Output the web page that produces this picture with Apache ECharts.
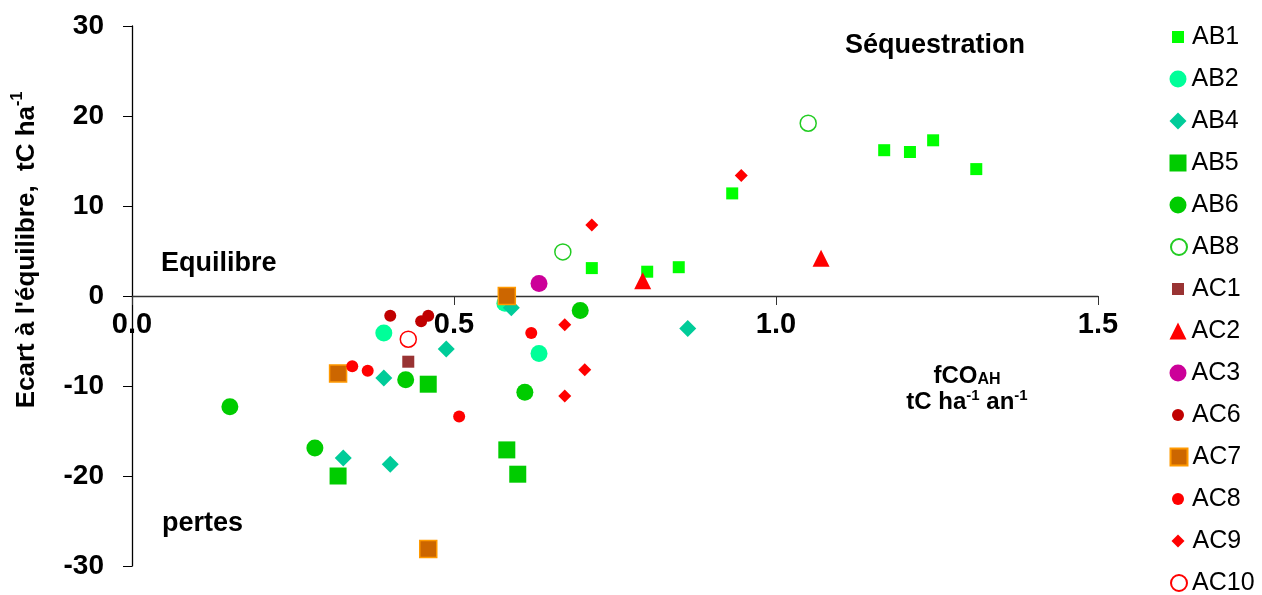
<!DOCTYPE html>
<html><head><meta charset="utf-8">
<script src="https://cdn.jsdelivr.net/npm/echarts@6/dist/echarts.min.js"></script>
<style>html,body{margin:0;padding:0;background:#fff}#c{width:1262px;height:595px}</style>
</head><body><div id="c"></div>
<script>
const FONT = "'Liberation Sans', Arial, Helvetica, sans-serif";

// ---- data (x = fCO_AH, y = écart à l'équilibre) ----
const seriesNames = ['AB1','AB2','AB4','AB5','AB6','AB8','AC1','AC2','AC3','AC6','AC7','AC8','AC9','AC10'];
const xTickLabels = ['0.0','0.5','1.0','1.5'];
const yTickLabels = ['-30','-20','-10','0','10','20','30'];

const AB1 = [[0.714,3.1],[0.800,2.7],[0.849,3.2],[0.932,11.4],[1.168,16.2],[1.208,16.0],[1.244,17.3],[1.311,14.1]];
const AB2 = [[0.391,-4.1],[0.579,-0.8],[0.632,-6.4]];
const AB4 = [[0.488,-5.9],[0.391,-9.1],[0.328,-18.0],[0.401,-18.7],[0.589,-1.3],[0.863,-3.6]];
const AB5 = [[0.460,-9.8],[0.320,-20.0],[0.582,-17.1],[0.599,-19.8]];
const AB6 = [[0.152,-12.3],[0.425,-9.3],[0.284,-16.9],[0.610,-10.7],[0.696,-1.6]];
const AB8 = [[0.669,4.9],[1.050,19.2]];
const AC1 = [[0.429,-7.3]];
const AC2 = [[0.793,1.7],[1.070,4.2]];
const AC3 = [[0.632,1.4]];
const AC6 = [[0.401,-2.2],[0.449,-2.8],[0.460,-2.2]];
const AC7 = [[0.320,-8.6],[0.582,0.0],[0.460,-28.1]];
const AC8 = [[0.342,-7.8],[0.366,-8.3],[0.508,-13.4],[0.620,-4.1]];
const AC9 = [[0.672,-3.2],[0.703,-8.2],[0.672,-11.1],[0.946,13.4],[0.714,7.9]];
const AC10 = [[0.429,-4.8]];
const seriesData = [AB1,AB2,AB4,AB5,AB6,AB8,AC1,AC2,AC3,AC6,AC7,AC8,AC9,AC10];

// ---- styles ----
const styles = {
  AB1: {symbol:'rect', size:12, color:'#00FF00'},
  AB2: {symbol:'circle', size:17, color:'#00FF99'},
  AB4: {symbol:'diamond', size:17, color:'#00CC99'},
  AB5: {symbol:'rect', size:17, color:'#00CC00'},
  AB6: {symbol:'circle', size:17, color:'#00CC00'},
  AB8: {symbol:'circle', size:16, color:'#FFFFFF', border:'#22CC22', bw:1.5},
  AC1: {symbol:'rect', size:12, color:'#993333'},
  AC2: {symbol:'triangle', size:17, color:'#FF0000'},
  AC3: {symbol:'circle', size:17, color:'#CC0099'},
  AC6: {symbol:'circle', size:12, color:'#C00000'},
  AC7: {symbol:'rect', size:17, color:'#CC6600', border:'#FF9900', bw:1.5},
  AC8: {symbol:'circle', size:12, color:'#FF0000'},
  AC9: {symbol:'diamond', size:13, color:'#FF0000'},
  AC10:{symbol:'circle', size:16, color:'#FFFFFF', border:'#FF0000', bw:1.5}
};

const GRID = {left:132, right:164, top:26, bottom:29};
const CH = 595;
const yMin = -30, yMax = 30;
const plotH = CH - GRID.top - GRID.bottom;
const zeroY = GRID.top + plotH * (yMax - 0) / (yMax - yMin);
const gridBottomY = CH - GRID.bottom;

const series = seriesNames.map((n,i)=>{
  const s = styles[n];
  return {
    name:n, type:'scatter', data:seriesData[i], symbol:s.symbol, symbolSize:s.size,
    itemStyle:{color:s.color, borderColor:s.border||s.color, borderWidth:s.bw||0, opacity:1},
    emphasis:{disabled:true}, z: 2 + i*0.01
  };
});

const legend = seriesNames.map((n,i)=>{
  const s = styles[n];
  const w = s.size;
  return {
    data:[n], orient:'vertical', padding:0, selectedMode:false,
    left: 1178 - w/2, top: 37 + i*42 - 13,
    itemWidth:w, itemHeight:w,
    textStyle:{fontFamily:FONT, fontSize:25, color:'#000', lineHeight:26, padding:[0,0,0, w<15?3:0]}
  };
});

const chart = echarts.init(document.getElementById('c'), null, {renderer:'canvas'});
chart.setOption({
  animation:false,
  backgroundColor:'#fff',
  grid:Object.assign({containLabel:false, outerBoundsMode:'none'}, GRID),
  xAxis:{
    type:'value', min:0, max:1.5, interval:0.5,
    axisLine:{onZero:true, lineStyle:{color:'#333', width:1.3}},
    axisTick:{show:true, inside:false, length:9, lineStyle:{color:'#333'}},
    splitLine:{show:false},
    axisLabel:{fontFamily:FONT, fontSize:29, fontWeight:'bold', color:'#000', margin: -(gridBottomY - zeroY) + 14,
      formatter:(v)=>{const k=Math.round(v/0.5); return xTickLabels[k]!==undefined?xTickLabels[k]:'';}}
  },
  yAxis:{
    type:'value', min:yMin, max:yMax, interval:10,
    axisLine:{lineStyle:{color:'#000', width:1.3}},
    axisTick:{show:true, length:9, lineStyle:{color:'#000'}},
    splitLine:{show:false},
    axisLabel:{fontFamily:FONT, fontSize:28, fontWeight:'bold', color:'#000', margin:28,
      formatter:(v)=>{const k=Math.round((v-yMin)/10); return yTickLabels[k]!==undefined?yTickLabels[k]:'';}}
  },
  legend: legend,
  series: series,
  graphic:[
    {type:'text', x:25, y:250, rotation:Math.PI/2, z:10,
      style:{text:"{m|Ecart à l'équilibre,  tC ha}{s|-1}", align:'center', verticalAlign:'middle',
        textAlign:'center', textVerticalAlign:'middle', fill:'#000',
        rich:{m:{fontFamily:FONT, fontSize:26, fontWeight:'bold', lineHeight:30, verticalAlign:'bottom'},
              s:{fontFamily:FONT, fontSize:16, fontWeight:'bold', verticalAlign:'top', lineHeight:18}}}},
    {type:'text', x:967, y:388, z:10,
      style:{text:"{m|fCO}{b|AH}\n{m|tC ha}{s|-1}{m| an}{s|-1}", align:'center', verticalAlign:'middle',
        textAlign:'center', textVerticalAlign:'middle', fill:'#000',
        rich:{m:{fontFamily:FONT, fontSize:24, fontWeight:'bold', lineHeight:26, verticalAlign:'bottom'},
              b:{fontFamily:FONT, fontSize:16, fontWeight:'bold', verticalAlign:'bottom', lineHeight:16},
              s:{fontFamily:FONT, fontSize:15, fontWeight:'bold', verticalAlign:'top', lineHeight:16}}}},
    {type:'text', x:845, y:46, z:10,
      style:{text:'Séquestration', fontFamily:FONT, fontSize:27, fontWeight:'bold', fill:'#000',
        align:'left', verticalAlign:'middle', textAlign:'left', textVerticalAlign:'middle'}},
    {type:'text', x:161, y:264, z:10,
      style:{text:'Equilibre', fontFamily:FONT, fontSize:27, fontWeight:'bold', fill:'#000',
        align:'left', verticalAlign:'middle', textAlign:'left', textVerticalAlign:'middle'}},
    {type:'text', x:162, y:524, z:10,
      style:{text:'pertes', fontFamily:FONT, fontSize:27, fontWeight:'bold', fill:'#000',
        align:'left', verticalAlign:'middle', textAlign:'left', textVerticalAlign:'middle'}}
  ]
});
</script></body></html>
